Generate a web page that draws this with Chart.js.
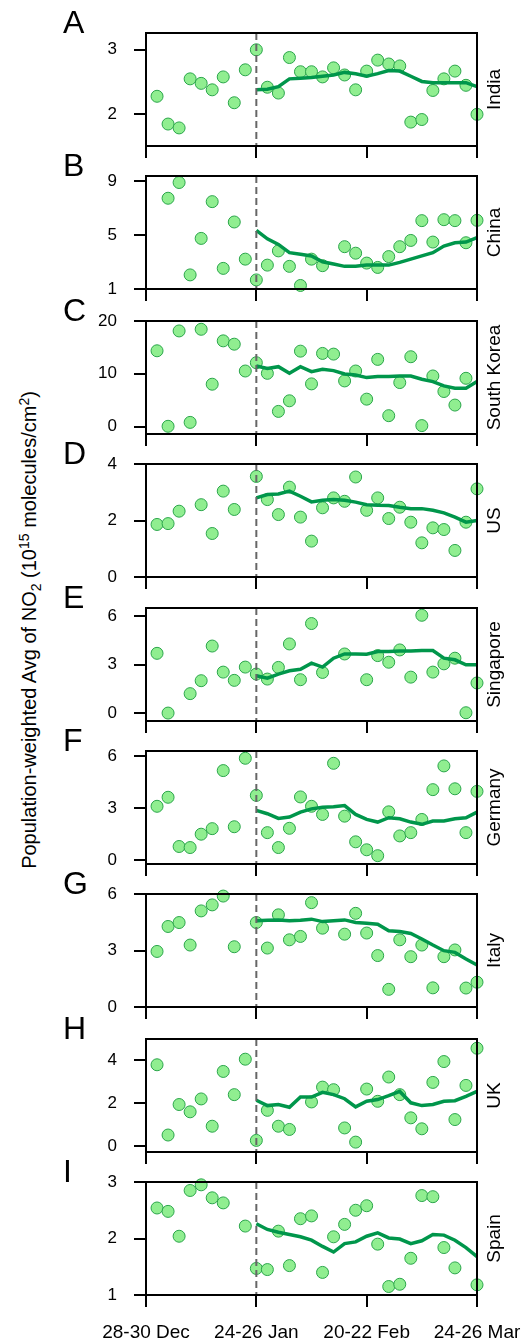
<!DOCTYPE html>
<html>
<head>
<meta charset="utf-8">
<script src="https://cdn.jsdelivr.net/npm/chart.js@4"></script>
<style>
body { margin:0; width:524px; height:1342px; overflow:hidden; background:#fff; position:relative; font-family:"Liberation Sans", Arial, sans-serif; }
#ytitle { position:absolute; left:30px; top:630px; transform:translate(-50%,-50%) rotate(-90deg); font-size:20px; white-space:nowrap; color:#000; }
#ytitle sub, #ytitle sup { font-size:14px; }
</style>
</head>
<body>
<div id="ytitle">Population-weighted Avg of NO<sub>2</sub> (10<sup>15</sup> molecules/cm<sup>2</sup>)</div>
<script>
// 3-day windows, 28-30 Dec .. 24-26 Mar
const windowIdx = [1,2,3,4,5,6,7,8,9,10,11,12,13,14,15,16,17,18,19,20,21,22,23,24,25,26,27,28,29,30];
const trendIdx = [10,11,12,13,14,15,16,17,18,19,20,21,22,23,24,25,26,27,28,29,30];
const xTickLabels = ['28-30 Dec', '24-26 Jan', '20-22 Feb', '24-26 Mar'];

const indiaPts = [2.28,1.85,1.79,2.55,2.48,2.38,2.58,2.18,2.69,3.0,2.42,2.33,2.88,2.66,2.66,2.58,2.72,2.61,2.38,2.67,2.84,2.78,2.75,1.88,1.92,2.37,2.55,2.67,2.45,2.0];
const indiaTrend = [2.38,2.39,2.43,2.55,2.56,2.57,2.59,2.61,2.65,2.63,2.59,2.63,2.68,2.67,2.59,2.51,2.49,2.49,2.49,2.49,2.43];

const chinaPts = [null,7.72,8.88,2.07,4.76,7.47,2.55,5.97,3.23,1.70,2.79,3.84,2.70,1.29,3.23,2.75,null,4.15,3.67,2.94,2.62,3.42,4.15,4.61,6.07,4.49,6.14,6.07,4.44,6.09];
const chinaTrend = [5.36,4.73,4.32,3.71,3.59,3.47,3.04,2.87,2.70,2.70,2.79,2.79,2.79,2.99,3.23,3.47,3.71,4.20,4.44,4.49,4.81];

const koreaPts = [14.36,0.06,18.12,0.8,18.43,8.03,16.24,15.61,10.53,12.1,10.09,2.88,4.89,14.29,8.09,13.86,13.73,8.65,10.53,5.2,12.73,2.07,8.34,13.23,0.19,9.59,6.65,4.08,9.15,null];
const koreaTrend = [11.47,11.03,11.35,10.09,11.35,10.41,10.85,10.6,9.97,9.78,9.28,9.47,9.47,9.59,9.59,8.97,8.53,7.71,7.27,7.27,8.53];

const usPts = [1.86,1.89,2.33,null,2.56,1.54,3.04,2.39,null,3.56,2.74,2.21,3.18,2.12,1.27,2.45,2.8,2.68,3.54,2.36,2.8,2.07,2.47,1.94,1.21,1.74,1.68,0.94,1.94,3.12];
const usTrend = [2.8,2.92,2.94,3.04,2.86,2.66,2.72,2.74,2.72,2.65,2.56,2.54,2.53,2.47,2.42,2.42,2.36,2.27,2.12,1.94,2.0];

const singaporePts = [3.69,0.0,null,1.2,2.0,4.14,2.53,2.02,2.84,2.41,2.1,2.82,4.27,2.06,5.53,2.51,null,3.65,null,2.06,3.55,3.14,3.9,2.22,6.04,2.53,3.04,3.39,0.02,1.86];
const singaporeTrend = [2.31,2.16,2.41,2.61,2.71,3.08,2.84,3.39,3.65,3.65,3.63,3.8,3.8,3.84,3.84,3.86,3.86,3.39,3.29,2.98,2.98];

const germanyPts = [3.1,3.62,0.78,0.72,1.49,1.81,5.16,1.92,5.87,3.73,1.58,0.72,1.83,3.64,3.1,2.63,5.58,2.53,1.05,0.59,0.25,2.78,1.39,1.58,2.34,4.06,5.43,4.11,1.58,3.96];
const germanyTrend = [2.86,2.67,2.4,2.48,2.76,2.95,3.05,3.07,3.14,2.63,2.34,2.19,2.44,2.38,2.19,2.06,2.25,2.25,2.38,2.44,2.76];

const italyPts = [2.96,4.29,4.5,3.3,5.12,5.44,5.91,3.21,null,4.5,3.14,4.91,3.58,3.76,5.56,4.2,null,3.88,4.99,3.94,2.74,0.94,3.58,2.68,3.3,1.02,2.68,3.04,1.01,1.32];
const italyTrend = [4.59,4.62,4.64,4.59,4.62,4.68,4.55,4.59,4.64,4.5,4.46,4.41,4.06,4.02,3.92,3.62,3.3,3.0,2.91,2.56,2.24];

const ukPts = [3.8,0.53,1.95,1.61,2.21,0.94,3.49,2.41,4.06,0.28,1.68,0.94,0.79,null,2.07,2.76,2.64,0.86,0.2,2.67,2.1,3.23,2.41,1.33,0.82,2.98,3.95,1.25,2.84,4.57];
const ukTrend = [2.15,1.9,1.95,1.82,2.3,2.3,2.52,2.41,2.22,1.84,2.1,2.18,2.36,2.56,2.03,1.9,1.95,2.1,2.13,2.33,2.56];

const spainPts = [2.54,2.48,2.04,2.85,2.95,2.72,2.63,null,2.22,1.47,1.45,2.13,1.52,2.35,2.4,1.4,2.03,2.25,2.5,2.58,1.9,1.15,1.19,1.65,2.76,2.74,1.84,1.48,null,1.18];
const spainTrend = [2.26,2.16,2.11,2.07,2.03,1.97,1.86,1.76,1.91,1.94,2.04,2.1,2.01,1.99,1.91,1.96,2.07,2.06,1.97,1.84,1.68];

const panelLetters = ['A','B','C','D','E','F','G','H','I'];
const countries = ['India','China','South Korea','US','Singapore','Germany','Italy','UK','Spain'];
const yTickVals = [[2,3],[1,5,9],[0,10,20],[0,2,4],[0,3,6],[0,3,6],[0,3,6],[0,2,4],[1,2,3]];
const yRanges = [[1.51,3.26],[1.03,9.36],[-1.4,20],[0,4],[-0.49,6.49],[-0.23,6.29],[0,6.02],[-0.26,5.0],[1,3]];
const allPts = [indiaPts, chinaPts, koreaPts, usPts, singaporePts, germanyPts, italyPts, ukPts, spainPts];
const allTrend = [indiaTrend, chinaTrend, koreaTrend, usTrend, singaporeTrend, germanyTrend, italyTrend, ukTrend, spainTrend];

// layout (px)
const plotTops = [33, 176, 321, 464, 608, 751, 894, 1039, 1182];
const padTop = 30, plotH = 113, yAxisW = 146, padRight = 47;

Chart.defaults.font.family = '"Liberation Sans", Arial, sans-serif';
Chart.defaults.color = '#000';

const panelDecor = {
  id: 'panelDecor',
  afterDatasetsDraw(chart, args, opts) {
    const {ctx, chartArea: a, scales: {x}} = chart;
    const px = x.getPixelForValue(opts.breakAt);
    ctx.save();
    ctx.strokeStyle = '#666';
    ctx.lineWidth = 2;
    ctx.setLineDash([7, 4]);
    ctx.beginPath();
    ctx.moveTo(px, a.top);
    ctx.lineTo(px, a.bottom);
    ctx.stroke();
    ctx.restore();
  },
  afterDraw(chart, args, opts) {
    const {ctx, chartArea: a} = chart;
    ctx.save();
    ctx.strokeStyle = '#000';
    ctx.lineWidth = 2;
    ctx.strokeRect(a.left, a.top, a.right - a.left, a.bottom - a.top);
    ctx.fillStyle = '#000';
    ctx.font = '32px "Liberation Sans", Arial, sans-serif';
    ctx.textAlign = 'left';
    ctx.textBaseline = 'alphabetic';
    ctx.fillText(opts.letter, 63, a.top);
    ctx.translate(a.right + 18, (a.top + a.bottom) / 2);
    ctx.rotate(-Math.PI / 2);
    ctx.font = '19px "Liberation Sans", Arial, sans-serif';
    ctx.textAlign = 'center';
    ctx.textBaseline = 'middle';
    ctx.fillText(opts.country, 0, 0);
    ctx.restore();
  }
};

countries.forEach((country, i) => {
  const last = i === countries.length - 1;
  const top = plotTops[i] - padTop;
  const h = last ? 1342 - top : padTop + plotH + 16;
  const cv = document.createElement('canvas');
  cv.width = 524;
  cv.height = h;
  cv.style.cssText = `position:absolute;left:0;top:${top}px;width:524px;height:${h}px`;
  document.body.appendChild(cv);

  const pts = allPts[i];
  const trend = allTrend[i];

  new Chart(cv, {
    type: 'scatter',
    data: {
      datasets: [{
        data: trendIdx.map((d, k) => ({x: d, y: trend[k]})),
        showLine: true,
        borderColor: '#00964b',
        borderWidth: 3.5,
        pointRadius: 0,
        tension: 0,
        fill: false,
        clip: false
      }, {
        data: windowIdx.map((d, k) => ({x: d, y: pts[k]})),
        backgroundColor: '#90ee90',
        borderColor: '#2aa54a',
        borderWidth: 1,
        pointRadius: 6,
        clip: false
      }]
    },
    plugins: [panelDecor],
    options: {
      responsive: false,
      animation: false,
      events: [],
      layout: { autoPadding: false, padding: { top: padTop, left: 0, right: padRight, bottom: 0 } },
      plugins: {
        legend: { display: false },
        tooltip: { enabled: false },
        panelDecor: { letter: panelLetters[i], country: country, breakAt: 10 }
      },
      scales: {
        x: {
          type: 'linear',
          min: 0,
          max: 30,
          afterFit(scale) {
            scale.height = h - padTop - plotH;
            scale.paddingLeft = 0;
            scale.paddingRight = 0;
          },
          afterBuildTicks(scale) { scale.ticks = [0, 10, 20, 30].map(v => ({value: v})); },
          border: { display: false },
          grid: { drawOnChartArea: false, drawTicks: true, tickLength: 12, color: '#000', lineWidth: 2 },
          ticks: {
            maxRotation: 0,
            autoSkip: false,
            padding: 14,
            font: { size: 19 },
            callback: (v, k) => last ? xTickLabels[k] : ''
          }
        },
        y: {
          type: 'linear',
          min: yRanges[i][0],
          max: yRanges[i][1],
          afterFit(scale) {
            scale.width = yAxisW;
            scale.paddingTop = 0;
            scale.paddingBottom = 0;
          },
          afterBuildTicks(scale) { scale.ticks = yTickVals[i].map(v => ({value: v})); },
          border: { display: false },
          grid: { drawOnChartArea: false, drawTicks: true, tickLength: 12, color: '#000', lineWidth: 2 },
          ticks: { padding: 17, font: { size: 17 }, callback: v => String(v) }
        }
      }
    }
  });
});
</script>
</body>
</html>
